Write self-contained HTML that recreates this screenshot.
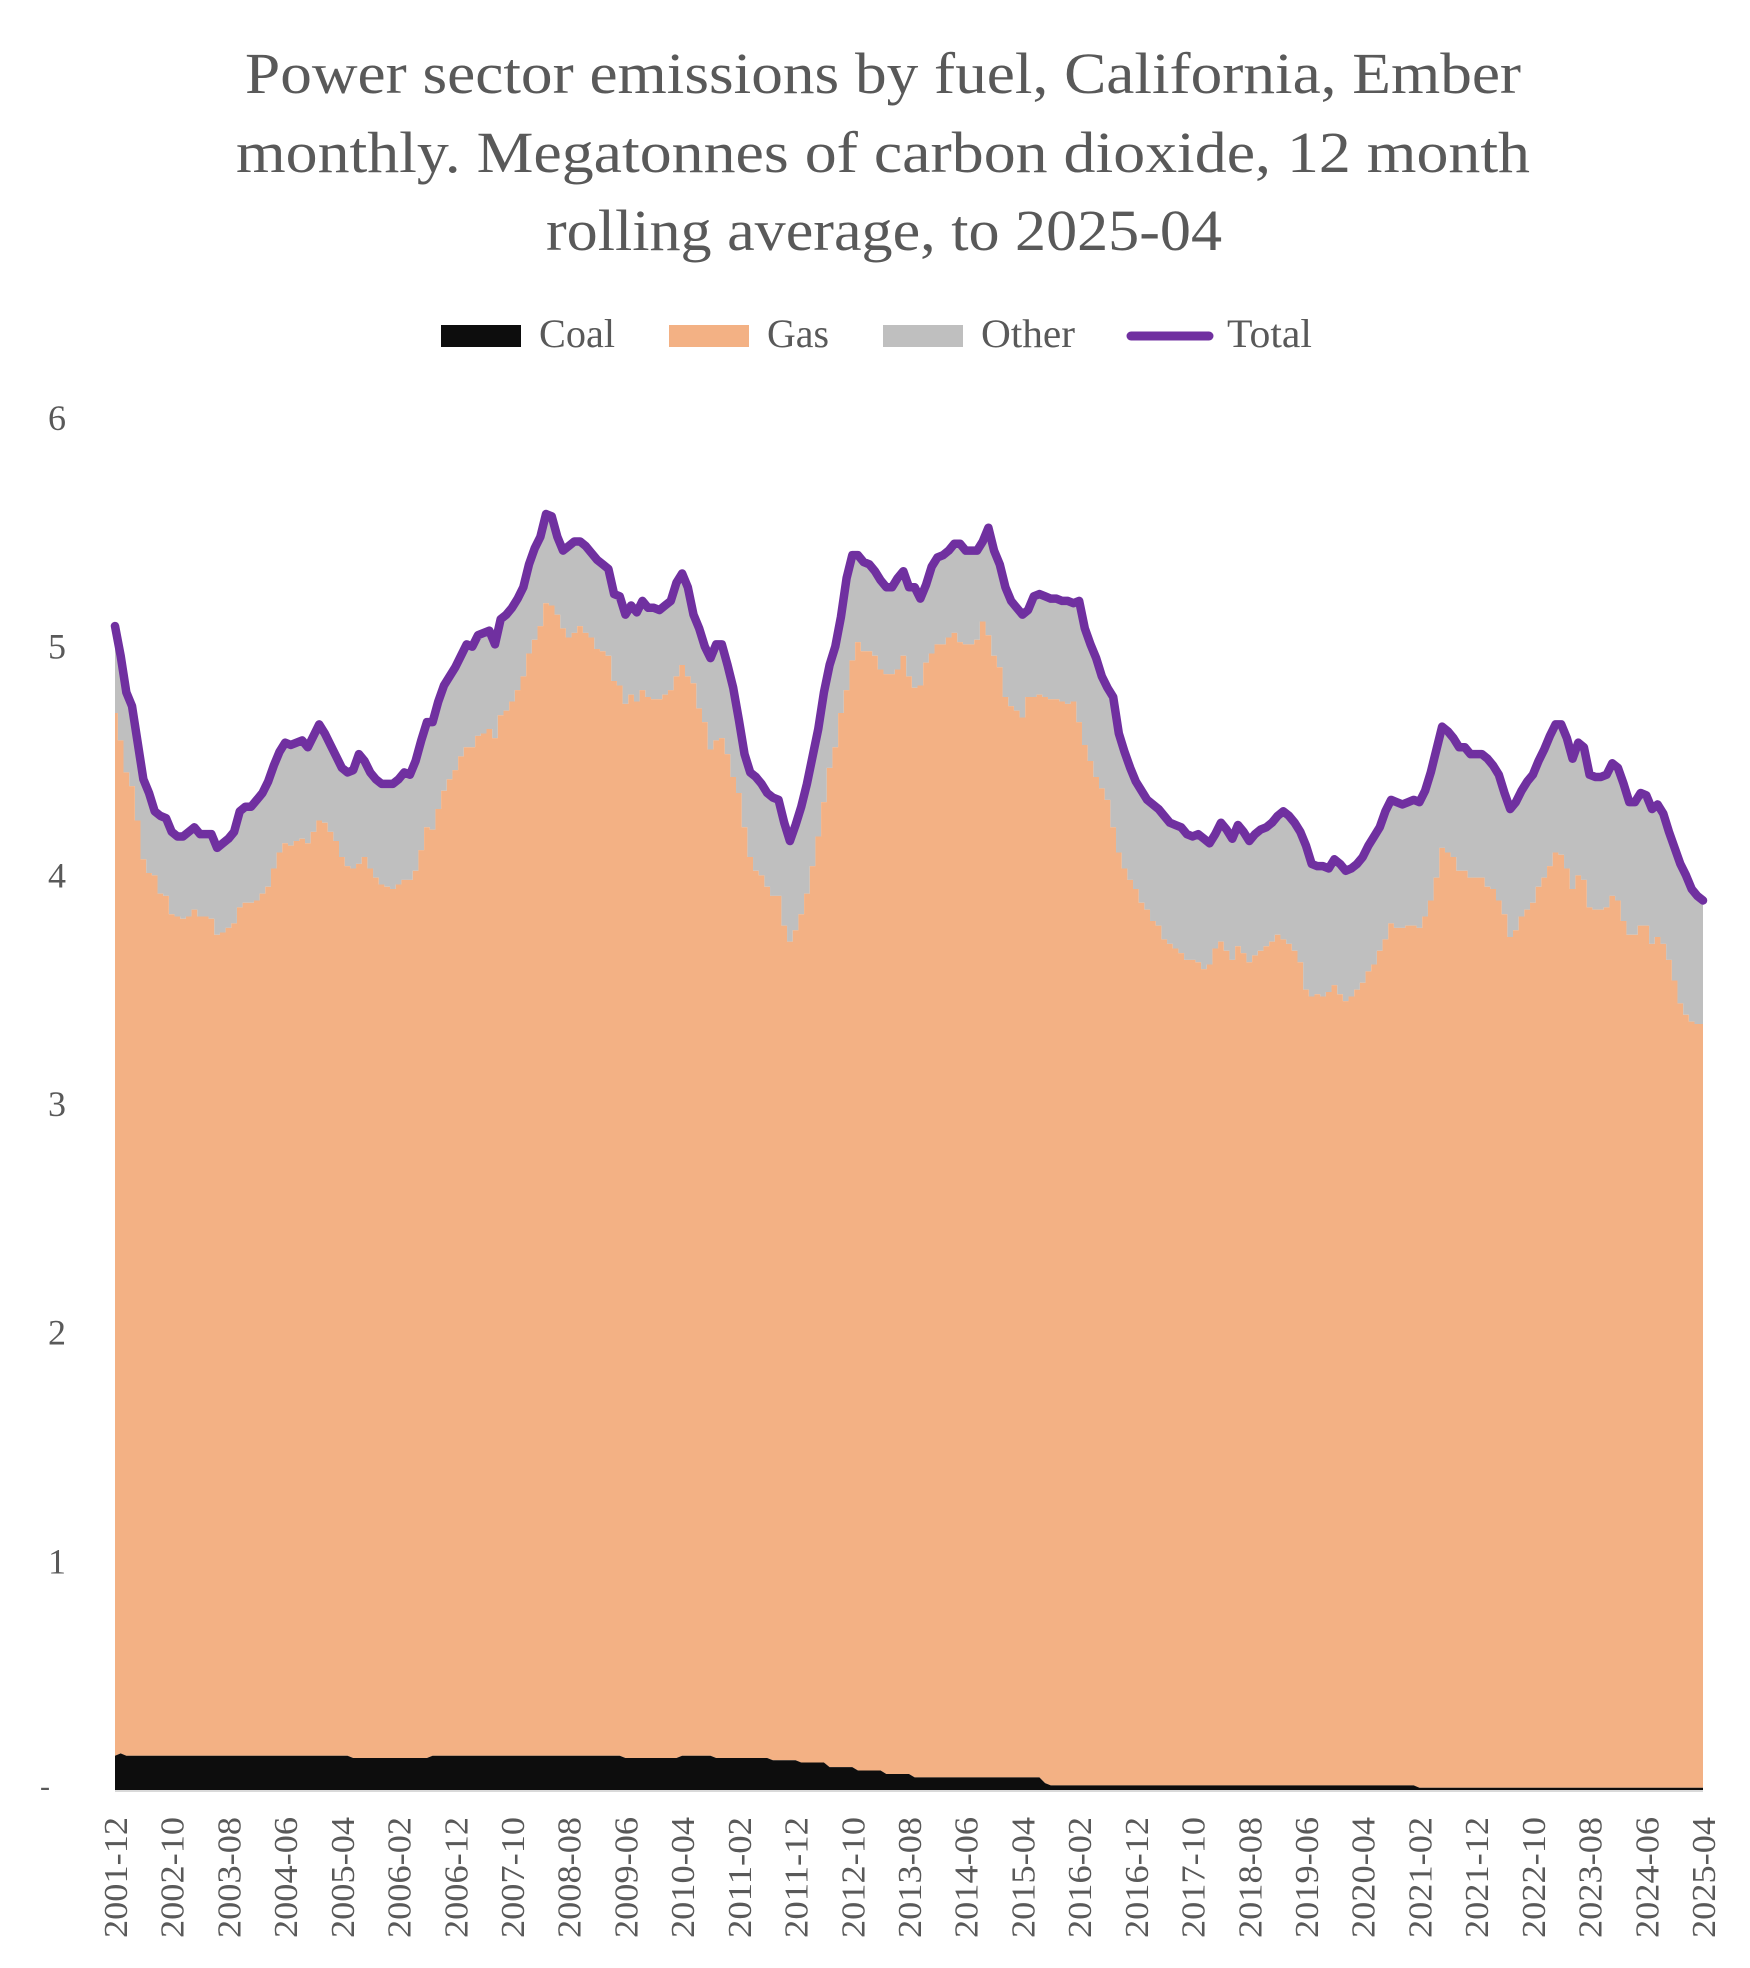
<!DOCTYPE html>
<html><head><meta charset="utf-8">
<style>
html,body{margin:0;padding:0;background:#fff;}
svg{display:block;}
text{font-family:"Liberation Serif",serif;fill:#595959;}
</style></head>
<body>
<svg id="chart" width="1750" height="1968" viewBox="0 0 1750 1968" xmlns="http://www.w3.org/2000/svg">
<g>
<text x="883" y="93" text-anchor="middle" font-size="58" textLength="1276" lengthAdjust="spacingAndGlyphs">Power sector emissions by fuel, California, Ember</text>
<text x="883" y="172" text-anchor="middle" font-size="58" textLength="1294" lengthAdjust="spacingAndGlyphs">monthly. Megatonnes of carbon dioxide, 12 month</text>
<text x="884" y="250" text-anchor="middle" font-size="58" textLength="676" lengthAdjust="spacingAndGlyphs">rolling average, to 2025-04</text>
</g>
<g>
<g><rect x="441" y="325" width="80" height="22" fill="#0d0d0d"/><text x="539" y="347" font-size="40" textLength="76" lengthAdjust="spacingAndGlyphs">Coal</text></g>
<g><rect x="669" y="325" width="80" height="22" fill="#f3b184"/><text x="767" y="347" font-size="40" textLength="62" lengthAdjust="spacingAndGlyphs">Gas</text></g>
<g><rect x="883" y="325" width="80" height="22" fill="#bfbfbf"/><text x="981" y="347" font-size="40" textLength="94" lengthAdjust="spacingAndGlyphs">Other</text></g>
<g><line x1="1131" y1="336" x2="1209" y2="336" stroke="#7030a0" stroke-width="9" stroke-linecap="round"/><text x="1227" y="347" font-size="40" textLength="85" lengthAdjust="spacingAndGlyphs">Total</text></g>
</g>
<g id="yaxis"></g>
<g id="plot"></g>
<g id="xaxis"></g>
</svg>
<script>
var coal = [
0.15,0.16,0.15,0.15,0.15,0.15,0.15,0.15,0.15,0.15,
0.15,0.15,0.15,0.15,0.15,0.15,0.15,0.15,0.15,0.15,
0.15,0.15,0.15,0.15,0.15,0.15,0.15,0.15,0.15,0.15,
0.15,0.15,0.15,0.15,0.15,0.15,0.15,0.15,0.15,0.15,
0.15,0.15,0.14,0.14,0.14,0.14,0.14,0.14,0.14,0.14,
0.14,0.14,0.14,0.14,0.14,0.14,0.15,0.15,0.15,0.15,
0.15,0.15,0.15,0.15,0.15,0.15,0.15,0.15,0.15,0.15,
0.15,0.15,0.15,0.15,0.15,0.15,0.15,0.15,0.15,0.15,
0.15,0.15,0.15,0.15,0.15,0.15,0.15,0.15,0.15,0.15,
0.14,0.14,0.14,0.14,0.14,0.14,0.14,0.14,0.14,0.14,
0.15,0.15,0.15,0.15,0.15,0.15,0.14,0.14,0.14,0.14,
0.14,0.14,0.14,0.14,0.14,0.14,0.13,0.13,0.13,0.13,
0.13,0.12,0.12,0.12,0.12,0.12,0.10,0.10,0.10,0.10,
0.10,0.085,0.085,0.085,0.085,0.085,0.07,0.07,0.07,0.07,
0.07,0.055,0.055,0.055,0.055,0.055,0.055,0.055,0.055,0.055,
0.055,0.055,0.055,0.055,0.055,0.055,0.055,0.055,0.055,0.055,
0.055,0.055,0.055,0.055,0.03,0.02,0.02,0.02,0.02,0.02,
0.02,0.02,0.02,0.02,0.02,0.02,0.02,0.02,0.02,0.02,
0.02,0.02,0.02,0.02,0.02,0.02,0.02,0.02,0.02,0.02,
0.02,0.02,0.02,0.02,0.02,0.02,0.02,0.02,0.02,0.02,
0.02,0.02,0.02,0.02,0.02,0.02,0.02,0.02,0.02,0.02,
0.02,0.02,0.02,0.02,0.02,0.02,0.02,0.02,0.02,0.02,
0.02,0.02,0.02,0.02,0.02,0.02,0.02,0.02,0.02,0.02,
0.01,0.01,0.01,0.01,0.01,0.01,0.01,0.01,0.01,0.01,
0.01,0.01,0.01,0.01,0.01,0.01,0.01,0.01,0.01,0.01,
0.01,0.01,0.01,0.01,0.01,0.01,0.01,0.01,0.01,0.01,
0.01,0.01,0.01,0.01,0.01,0.01,0.01,0.01,0.01,0.01,
0.01,0.01,0.01,0.01,0.01,0.01,0.01,0.01,0.01,0.01,
0.01];
var gas = [
4.56,4.43,4.30,4.24,4.09,3.92,3.86,3.85,3.77,3.76,
3.68,3.67,3.66,3.67,3.70,3.67,3.67,3.66,3.59,3.60,
3.62,3.64,3.71,3.73,3.73,3.74,3.77,3.80,3.88,3.95,
3.99,3.98,4.00,4.01,3.99,4.04,4.09,4.08,4.04,4.00,
3.93,3.89,3.89,3.91,3.94,3.89,3.85,3.82,3.81,3.80,
3.82,3.84,3.84,3.88,3.97,4.07,4.05,4.14,4.22,4.27,
4.31,4.37,4.41,4.41,4.46,4.47,4.49,4.45,4.55,4.57,
4.61,4.66,4.72,4.82,4.88,4.94,5.04,5.03,4.99,4.93,
4.89,4.91,4.94,4.91,4.89,4.84,4.83,4.81,4.70,4.68,
4.61,4.65,4.62,4.67,4.64,4.63,4.63,4.65,4.67,4.73,
4.77,4.72,4.69,4.58,4.52,4.40,4.45,4.46,4.39,4.29,
4.22,4.07,3.94,3.88,3.86,3.81,3.78,3.78,3.65,3.58,
3.63,3.71,3.80,3.92,4.05,4.20,4.37,4.46,4.61,4.71,
4.84,4.935,4.895,4.895,4.875,4.815,4.81,4.81,4.83,4.89,
4.80,4.765,4.775,4.875,4.915,4.955,4.955,4.985,5.005,4.965,
4.955,4.955,4.975,5.055,4.995,4.905,4.855,4.725,4.685,4.665,
4.635,4.725,4.725,4.735,4.75,4.75,4.75,4.74,4.73,4.74,
4.65,4.55,4.48,4.41,4.36,4.31,4.19,4.08,4.01,3.96,
3.92,3.86,3.83,3.78,3.76,3.70,3.68,3.66,3.64,3.61,
3.61,3.60,3.57,3.59,3.66,3.69,3.65,3.61,3.67,3.64,
3.60,3.63,3.65,3.67,3.69,3.72,3.70,3.68,3.65,3.60,
3.48,3.45,3.46,3.45,3.47,3.50,3.46,3.43,3.45,3.48,
3.51,3.56,3.59,3.65,3.70,3.77,3.75,3.75,3.76,3.76,
3.76,3.81,3.88,3.98,4.11,4.09,4.07,4.01,4.01,3.98,
3.98,3.98,3.94,3.93,3.88,3.82,3.72,3.75,3.81,3.84,
3.87,3.94,3.98,4.03,4.09,4.08,4.02,3.93,3.99,3.97,
3.85,3.84,3.84,3.85,3.90,3.88,3.79,3.73,3.73,3.77,
3.77,3.69,3.72,3.69,3.62,3.53,3.43,3.38,3.35,3.34,
3.34];
var other = [
0.38,0.37,0.35,0.35,0.34,0.35,0.35,0.28,0.34,0.34,
0.36,0.35,0.36,0.37,0.36,0.36,0.36,0.37,0.38,0.39,
0.39,0.40,0.42,0.42,0.42,0.44,0.44,0.46,0.45,0.44,
0.44,0.44,0.43,0.43,0.42,0.42,0.42,0.39,0.38,0.37,
0.39,0.41,0.43,0.48,0.42,0.42,0.43,0.44,0.45,0.46,
0.46,0.47,0.46,0.48,0.48,0.46,0.47,0.47,0.46,0.45,
0.45,0.44,0.45,0.44,0.44,0.44,0.43,0.41,0.42,0.42,
0.41,0.40,0.39,0.39,0.40,0.39,0.39,0.39,0.34,0.34,
0.40,0.40,0.37,0.38,0.37,0.39,0.38,0.38,0.38,0.39,
0.39,0.39,0.39,0.39,0.39,0.40,0.39,0.39,0.39,0.41,
0.40,0.39,0.30,0.35,0.33,0.40,0.42,0.41,0.39,0.39,
0.32,0.32,0.37,0.41,0.40,0.41,0.43,0.42,0.45,0.44,
0.46,0.47,0.48,0.48,0.47,0.48,0.45,0.44,0.42,0.49,
0.46,0.38,0.39,0.38,0.37,0.39,0.38,0.38,0.40,0.37,
0.39,0.44,0.38,0.34,0.38,0.38,0.39,0.38,0.39,0.43,
0.41,0.41,0.39,0.35,0.47,0.46,0.45,0.48,0.46,0.45,
0.45,0.38,0.44,0.44,0.44,0.44,0.44,0.44,0.45,0.43,
0.53,0.51,0.51,0.52,0.49,0.49,0.57,0.52,0.51,0.49,
0.47,0.49,0.48,0.51,0.51,0.54,0.53,0.54,0.55,0.55,
0.54,0.56,0.57,0.53,0.50,0.52,0.53,0.53,0.53,0.53,
0.53,0.53,0.53,0.52,0.52,0.52,0.56,0.56,0.56,0.57,
0.63,0.58,0.56,0.57,0.54,0.55,0.57,0.57,0.56,0.55,
0.55,0.55,0.56,0.54,0.56,0.54,0.55,0.54,0.54,0.55,
0.55,0.55,0.56,0.56,0.53,0.53,0.52,0.54,0.54,0.54,
0.54,0.54,0.56,0.54,0.55,0.53,0.56,0.56,0.55,0.56,
0.56,0.55,0.56,0.57,0.56,0.57,0.57,0.57,0.58,0.58,
0.58,0.58,0.58,0.58,0.58,0.58,0.60,0.58,0.58,0.58,
0.57,0.59,0.58,0.57,0.56,0.58,0.61,0.61,0.58,0.56,
0.54];
var yTicks = [6,5,4,3,2,1];
var yTickLabels = ["6","5","4","3","2","1"];
var startYear = 2001, startMonth = 12;
var tickEvery = 10;

var NS = "http://www.w3.org/2000/svg";
var X0 = 115, X1 = 1703, Y0 = 1790, PX_PER_UNIT = 228.67;
var N = gas.length;
function xs(i){ return X0 + i * (X1 - X0) / (N - 1); }
function ys(v){ return Y0 - v * PX_PER_UNIT; }
var dx = (X1 - X0) / (N - 1);
function clampX(x){ return Math.max(X0, Math.min(X1, x)); }

var plot = document.getElementById('plot');
var coalTop = [], gasTop = [], total = [];
for (var i = 0; i < N; i++) {
  coalTop.push(coal[i]);
  gasTop.push(coal[i] + gas[i]);
  total.push(coal[i] + gas[i] + other[i]);
}
function mk(tag, attrs){ var e = document.createElementNS(NS, tag); for (var k in attrs) e.setAttribute(k, attrs[k]); return e; }

var base = mk('line', {x1: X0, x2: X1, y1: Y0 + 1, y2: Y0 + 1, stroke: '#d9d9d9', 'stroke-width': 2});


plot.appendChild(base);

function stepPts(arr){
  var p = [];
  for (var i = 0; i < N; i++) {
    var a = clampX(xs(i) - dx / 2), b = clampX(xs(i) + dx / 2);
    p.push([a, ys(arr[i])]); p.push([b, ys(arr[i])]);
  }
  return p;
}
function linePts(arr){ var p = []; for (var i = 0; i < N; i++) p.push([xs(i), ys(arr[i])]); return p; }
function toStr(p){ return p.map(function(q){ return q[0].toFixed(2) + ',' + q[1].toFixed(2); }).join(' '); }

var otherPoly = linePts(total).concat(stepPts(gasTop).reverse());
var otherEl = mk('polygon', {points: toStr(otherPoly), fill: '#bfbfbf'});


plot.appendChild(otherEl);

var gasPoly = stepPts(gasTop).concat(linePts(coalTop).reverse());
var gasEl = mk('polygon', {points: toStr(gasPoly), fill: '#f3b184'});


plot.appendChild(gasEl);

var coalPoly = linePts(coalTop).concat([[X1, Y0], [X0, Y0]]);
var coalEl = mk('polygon', {points: toStr(coalPoly), fill: '#0d0d0d'});


plot.appendChild(coalEl);

var totEl = mk('polyline', {points: toStr(linePts(total)), fill: 'none', stroke: '#7030a0', 'stroke-width': 8.5, 'stroke-linejoin': 'round', 'stroke-linecap': 'round'});


plot.appendChild(totEl);

var yaxis = document.getElementById('yaxis');
for (var t = 0; t < yTicks.length; t++) {
  var tl = mk('text', {x: 57, y: ys(yTicks[t]) + 12, 'text-anchor': 'middle', 'font-size': 36});
  tl.textContent = yTickLabels[t];
  
  
  yaxis.appendChild(tl);
}
var zl = mk('text', {x: 45, y: Y0 + 6, 'text-anchor': 'middle', 'font-size': 30});
zl.textContent = "-";


yaxis.appendChild(zl);

var xaxis = document.getElementById('xaxis');
for (var i = 0; i < N; i += tickEvery) {
  var m = startMonth - 1 + i;
  var yr = startYear + Math.floor(m / 12), mo = (m % 12) + 1;
  var lbl = yr + '-' + (mo < 10 ? '0' + mo : '' + mo);
  var x = xs(i);
  var tx = mk('text', {x: 0, y: 0, 'text-anchor': 'end', 'font-size': 34, textLength: 121, lengthAdjust: 'spacingAndGlyphs', transform: 'translate(' + (x + 12).toFixed(1) + ',1817) rotate(-90)'});
  tx.textContent = lbl;
  
  
  xaxis.appendChild(tx);
}
</script>
</body></html>
